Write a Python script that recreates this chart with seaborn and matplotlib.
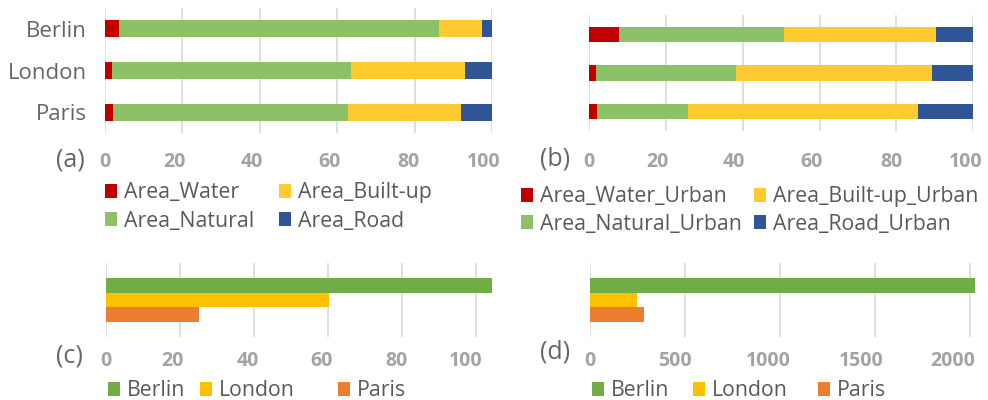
import numpy as np
import pandas as pd
import matplotlib
matplotlib.use("Agg")
import matplotlib.pyplot as plt
from matplotlib.patches import Patch
from matplotlib.transforms import ScaledTranslation
import seaborn as sns

cities = ["Berlin", "London", "Paris"]

# (a) land-cover shares over the whole city area, %
area_water = [3.7, 1.7, 2.0]
area_natural = [82.6, 61.8, 60.8]
area_builtup = [11.0, 29.6, 29.3]
area_road = [2.7, 6.9, 7.9]
area_labels = ["Area_Water", "Area_Natural", "Area_Built-up", "Area_Road"]

# (b) land-cover shares within the urban area, %
urban_water = [7.8, 1.8, 2.2]
urban_natural = [42.9, 36.5, 23.5]
urban_builtup = [39.7, 51.0, 59.8]
urban_road = [9.6, 10.7, 14.5]
urban_labels = ["Area_Water_Urban", "Area_Natural_Urban",
                "Area_Built-up_Urban", "Area_Road_Urban"]

# (c) and (d) per-city totals
values_c = [104.5, 60.4, 25.2]
values_d = [2026, 245, 284]

ticks_pct = [0, 20, 40, 60, 80, 100]
ticks_c = [0, 20, 40, 60, 80, 100]
ticks_d = [0, 500, 1000, 1500, 2000]

stack_colors = ["#C00000", "#8CC168", "#FFCA2F", "#2F5597"]
city_colors = ["#70AD47", "#FFC000", "#ED7D31"]

sns.set_style("white")
plt.rcParams["font.family"] = ["Open Sans", "DejaVu Sans"]

W, H = 988, 400
fig = plt.figure(figsize=(W / 100, H / 100), dpi=100)

GRID = "#D9D9D9"
TICK = "#A3A3A3"
TEXT = "#595959"


def px_axes(left, top, right, bottom):
    return fig.add_axes([left / W, 1 - bottom / H, (right - left) / W, (bottom - top) / H])


def style_axes(ax, ticks, xmax, pad, shifts):
    ax.set_xlim(0, xmax)
    ax.set_xticks(ticks)
    ax.set_xticklabels([str(t) for t in ticks])
    ax.xaxis.grid(True, color=GRID, lw=1.2)
    ax.yaxis.grid(False)
    ax.set_axisbelow(True)
    for s in ax.spines.values():
        s.set_visible(False)
    ax.tick_params(axis="x", length=0, pad=pad, labelsize=14, labelcolor=TICK)
    for lbl, dx in zip(ax.get_xticklabels(), shifts):
        lbl.set_fontweight("bold")
        lbl.set_transform(lbl.get_transform() + ScaledTranslation(dx / 100, 0, fig.dpi_scale_trans))
    ax.set_xlabel("")
    ax.set_ylabel("")


def stacked(ax, parts, width):
    cum = np.cumsum(np.array(parts, dtype=float), axis=0)
    # draw running totals from the largest down so each segment stays visible
    for k in range(len(parts) - 1, -1, -1):
        sns.barplot(x=cum[k], y=cities, color=stack_colors[k], orient="h",
                    width=width, saturation=1, linewidth=0, ax=ax)


def legend_entry(label, color, x, y):
    leg = fig.legend([Patch(facecolor=color, edgecolor="none")], [label],
                     loc="center left", bbox_to_anchor=(x / W, 1 - y / H),
                     frameon=False, fontsize=15.3, handlelength=0.57, handleheight=0.57,
                     handletextpad=0.33, borderpad=0, borderaxespad=0)
    leg.get_texts()[0].set_color(TEXT)


# (a)
ax_a = px_axes(105, 8, 492, 133)
stacked(ax_a, [area_water, area_natural, area_builtup, area_road], 0.41)
style_axes(ax_a, ticks_pct, 100, 14, [0, -8, -8, -8, -6, -8])
ax_a.tick_params(axis="y", length=0, pad=13, labelsize=16, labelcolor="#666666")
for lbl, col, x, y in zip(area_labels, stack_colors, [105, 105, 279, 279], [193, 221, 193, 221]):
    legend_entry(lbl, col, x, y)

# (b)
ax_b = px_axes(589, 15, 973.3, 131)
stacked(ax_b, [urban_water, urban_natural, urban_builtup, urban_road], 0.39)
style_axes(ax_b, ticks_pct, 100, 15, [0, -8, -9, -8, -5, -8])
ax_b.set_yticklabels([])
ax_b.tick_params(axis="y", length=0)
for lbl, col, x, y in zip(urban_labels, stack_colors, [521, 521, 754, 754], [197, 224, 197, 224]):
    legend_entry(lbl, col, x, y)

# (c) and (d)
df_c = pd.DataFrame({"group": [""] * 3, "city": cities, "value": values_c})
df_d = pd.DataFrame({"group": [""] * 3, "city": cities, "value": values_d})

ax_c = px_axes(106, 263, 494, 337)
sns.barplot(data=df_c, x="value", y="group", hue="city", hue_order=cities,
            palette=city_colors, orient="h", width=0.6, saturation=1,
            linewidth=0, legend=False, ax=ax_c)
style_axes(ax_c, ticks_c, 105, 10, [0, -7, -6, -6, -5, -10])
ax_c.set_yticklabels([])
ax_c.tick_params(axis="y", length=0)
for lbl, col, x in zip(cities, city_colors, [108, 200, 338]):
    legend_entry(lbl, col, x, 391)

ax_d = px_axes(590, 263, 980, 337)
sns.barplot(data=df_d, x="value", y="group", hue="city", hue_order=cities,
            palette=city_colors, orient="h", width=0.6, saturation=1,
            linewidth=0, legend=False, ax=ax_d)
style_axes(ax_d, ticks_d, 2051, 10, [0, -10, -12, -14, -18])
ax_d.set_yticklabels([])
ax_d.tick_params(axis="y", length=0)
for lbl, col, x in zip(cities, city_colors, [592, 693, 818]):
    legend_entry(lbl, col, x, 391)

# panel tags
for x, y, tag in [(70, 160, "(a)"), (555, 159, "(b)"), (69, 356, "(c)"), (555, 352, "(d)")]:
    fig.text(x / W, 1 - y / H, tag, ha="center", va="center", fontsize=18, color="#666666")

fig.savefig("out.png", dpi=100)
